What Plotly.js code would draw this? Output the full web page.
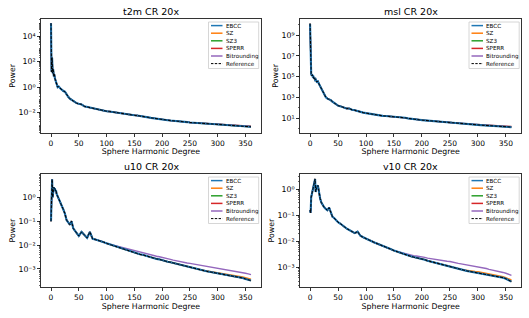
<!DOCTYPE html>
<html><head><meta charset="utf-8">
<script src="https://cdn.plot.ly/plotly-3.0.1.min.js"></script>
<style>html,body{margin:0;padding:0;background:#fff}#chart{width:529px;height:318px}</style>
</head><body><div id="chart"></div>
<script>
// ---------- data ----------
const degrees = [0,1,2,3,4,5,6,7,8,9,10,
  12,14,16,18,20,22,
  25,28,31,34,37,40,43,46,
  50,55,60,65,70,75,80,85,90,95,100,
  105,110,115,120,125,130,135,140,145,150,155,160,165,170,175,180,185,190,195,200,
  205,210,215,220,225,230,235,240,245,250,255,260,265,270,275,280,285,290,295,300,
  305,310,315,320,325,330,335,340,345,350,355,360];

const seriesNames  = ['EBCC','SZ','SZ3','SPERR','Bitrounding','Reference'];
const seriesColors = ['#1f77b4','#ff7f0e','#2ca02c','#d62728','#9467bd','#000000'];
const panelTitles  = ['t2m CR 20x','msl CR 20x','u10 CR 20x','v10 CR 20x'];
const xTitle = 'Sphere Harmonic Degree';
const yTitle = 'Power';
const xTickVals = [0,50,100,150,200,250,300,350];

// log10(power) values
const t2mLogPower = [5.0,1.2,2.3,1.1,1.4,0.85,1.0,0.7,0.55,0.45,0.15,
  0.0,0.05,-0.1,-0.15,-0.2,-0.3,
  -0.35,-0.6,-0.75,-0.9,-1.0,-1.05,-1.15,-1.25,
  -1.3,-1.35,-1.5,-1.55,-1.62,-1.66,-1.7,-1.74,-1.78,-1.85,-1.88,
  -1.9,-1.94,-1.96,-2.0,-2.02,-2.05,-2.09,-2.12,-2.16,-2.2,-2.22,-2.27,-2.3,-2.32,-2.36,-2.4,-2.42,-2.46,-2.5,-2.54,
  -2.55,-2.58,-2.61,-2.62,-2.65,-2.67,-2.68,-2.71,-2.73,-2.76,-2.77,-2.8,-2.81,-2.83,-2.85,-2.86,-2.87,-2.88,-2.9,-2.91,
  -2.93,-2.94,-2.96,-2.97,-2.99,-3.0,-3.02,-3.03,-3.05,-3.06,-3.08,-3.1];
const t2mSperrTail = [-2.81,-2.82,-2.83,-2.84,-2.85,-2.86,-2.88,-2.89,-2.91,-2.92,-2.94,-2.95,-2.97,-2.98,-3.0,-3.01,-3.03,-3.04,-3.06]; // degrees 270..360

const mslLogPower = [10.1,5.5,5.3,5.1,5.2,4.95,5.0,4.8,4.9,4.7,4.75,
  4.5,4.55,4.3,4.1,3.9,3.65,
  3.3,3.05,2.9,2.85,2.75,2.6,2.5,2.35,
  2.22,2.15,2.05,1.95,1.95,1.82,1.78,1.68,1.6,1.55,1.5,
  1.45,1.38,1.32,1.3,1.27,1.24,1.22,1.2,1.2,1.17,1.15,1.13,1.08,1.05,1.0,0.95,0.92,0.9,0.86,0.83,
  0.8,0.78,0.76,0.74,0.72,0.7,0.67,0.64,0.62,0.6,0.58,0.55,0.52,0.5,0.48,0.46,0.43,0.41,0.39,0.37,
  0.35,0.33,0.31,0.3,0.28,0.26,0.25,0.23,0.21,0.2,0.18,0.16];
const mslSperrTail = [0.52,0.5,0.48,0.46,0.44,0.42,0.4,0.39,0.37,0.35,0.34,0.32,0.31,0.29,0.28,0.26,0.25,0.23,0.21]; // degrees 270..360

const u10LogPower = [-1.0,-0.4,0.75,0.0,0.3,0.42,0.35,0.38,0.26,0.3,0.15,
  0.05,-0.05,-0.15,-0.28,-0.38,-0.5,
  -0.68,-0.95,-1.05,-1.15,-1.0,-1.3,-1.4,-1.5,
  -1.62,-1.45,-1.6,-1.7,-1.45,-1.74,-1.77,-1.8,-1.84,-1.88,-1.93,
  -1.97,-2.0,-2.05,-2.09,-2.12,-2.16,-2.21,-2.24,-2.29,-2.32,-2.35,-2.39,-2.41,-2.45,-2.47,-2.51,-2.54,-2.58,-2.6,-2.64,
  -2.66,-2.7,-2.72,-2.75,-2.78,-2.81,-2.85,-2.88,-2.92,-2.95,-2.97,-3.0,-3.03,-3.05,-3.08,-3.1,-3.12,-3.14,-3.16,-3.17,
  -3.2,-3.22,-3.24,-3.26,-3.28,-3.31,-3.33,-3.35,-3.38,-3.42,-3.45,-3.49];
const u10BitroundTail = [-1.96,-1.99,-2.03,-2.06,-2.09,-2.12,-2.16,-2.19,-2.22,-2.25,-2.28,-2.31,-2.33,-2.36,-2.39,-2.42,-2.45,-2.47,-2.49,-2.51,
  -2.54,-2.57,-2.6,-2.63,-2.66,-2.69,-2.71,-2.73,-2.75,-2.77,-2.79,-2.81,-2.83,-2.85,-2.87,-2.89,-2.91,-2.92,-2.94,-2.95,
  -2.98,-3.0,-3.02,-3.04,-3.06,-3.09,-3.11,-3.13,-3.15,-3.18,-3.21,-3.24]; // degrees 105..360
const u10SzTail = [-3.04,-3.06,-3.08,-3.1,-3.12,-3.13,-3.14,-3.17,-3.19,-3.21,-3.23,-3.25,-3.27,-3.29,-3.31,-3.34,-3.37,-3.4,-3.43]; // 270..360

const v10LogPower = [-0.8,-0.9,-0.3,-0.2,-0.1,0.0,0.1,0.2,0.3,0.4,-0.1,
  0.1,0.15,-0.2,-0.35,-0.5,-0.58,
  -0.68,-0.75,-0.8,-0.7,-0.85,-1.05,-1.1,-1.18,
  -1.26,-1.33,-1.42,-1.5,-1.56,-1.62,-1.68,-1.62,-1.78,-1.84,-1.9,
  -1.95,-1.99,-2.04,-2.08,-2.12,-2.16,-2.21,-2.25,-2.3,-2.35,-2.39,-2.44,-2.47,-2.51,-2.54,-2.57,-2.6,-2.62,-2.65,-2.67,
  -2.7,-2.74,-2.77,-2.8,-2.82,-2.85,-2.87,-2.9,-2.93,-2.97,-3.0,-3.03,-3.06,-3.08,-3.11,-3.13,-3.15,-3.17,-3.18,-3.19,
  -3.21,-3.23,-3.26,-3.28,-3.3,-3.32,-3.34,-3.36,-3.39,-3.43,-3.48,-3.54];
const v10BitroundTail = [-2.38,-2.42,-2.45,-2.48,-2.51,-2.53,-2.55,-2.56,-2.57,-2.58,
  -2.61,-2.64,-2.66,-2.68,-2.7,-2.72,-2.74,-2.75,-2.76,-2.77,
  -2.8,-2.82,-2.84,-2.86,-2.88,-2.9,-2.91,-2.93,-2.95,-2.96,
  -2.99,-3.01,-3.04,-3.07,-3.09,-3.12,-3.14,-3.16,-3.19,-3.22,-3.26,-3.3]; // degrees 155..360
const v10SzTail = [-3.07,-3.09,-3.11,-3.13,-3.14,-3.15,-3.16,-3.18,-3.2,-3.22,-3.24,-3.26,-3.28,-3.3,-3.32,-3.35,-3.39,-3.44,-3.48]; // 270..360

// y tick exponents per panel
const t2mTickExp = [-2,0,2,4];
const mslTickExp = [1,3,5,7,9];
const u10TickExp = [-3,-2,-1,0];
const v10TickExp = [-3,-2,-1,0];

// ---------- assemble series ----------
const withTail = (base, fromDeg, tail) => base.slice(0, degrees.indexOf(fromDeg)).concat(tail);
const panels = [
  {title: panelTitles[0], logs: [t2mLogPower, t2mLogPower, t2mLogPower, withTail(t2mLogPower,270,t2mSperrTail), t2mLogPower, t2mLogPower],
   yRange: [-3.56, 5.33], tickExp: t2mTickExp, minorD: 'D1'},
  {title: panelTitles[1], logs: [mslLogPower, mslLogPower, mslLogPower, withTail(mslLogPower,270,mslSperrTail), mslLogPower, mslLogPower],
   yRange: [-0.38, 10.55], tickExp: mslTickExp, minorD: 1},
  {title: panelTitles[2], logs: [u10LogPower, withTail(u10LogPower,270,u10SzTail), u10LogPower, u10LogPower, withTail(u10LogPower,105,u10BitroundTail), u10LogPower],
   yRange: [-3.77, 0.975], tickExp: u10TickExp, minorD: 'D1'},
  {title: panelTitles[3], logs: [v10LogPower, withTail(v10LogPower,270,v10SzTail), v10LogPower, v10LogPower, withTail(v10LogPower,155,v10BitroundTail), v10LogPower],
   yRange: [-3.76, 0.59], tickExp: v10TickExp, minorD: 'D1'}
];

const SUP = {'0':'\u2070','1':'\u00b9','2':'\u00b2','3':'\u00b3','4':'\u2074','5':'\u2075','6':'\u2076','7':'\u2077','8':'\u2078','9':'\u2079','-':'\u207b'};
const powLabel = e => '10' + String(e).split('').map(c => SUP[c]).join('');

// ---------- layout geometry (pixels) ----------
const W = 529, H = 318;
const boxes = [[41,261,19,132.7],[300,521.5,19,132.7],[41,261,174,287.3],[300,521.5,174,287.3]];
const FONT = 'DejaVu Sans, Liberation Sans, sans-serif';
const drawOrder = [1,2,3,4,0,5];
const lineWidths = [2.1,1.4,1.4,1.4,1.4,1.0];

const traces = [];
const layout = {
  width: W, height: H, margin: {l:0,r:0,t:0,b:0,pad:0},
  paper_bgcolor: '#fff', plot_bgcolor: '#fff', showlegend: false,
  font: {family: FONT, size: 7.5, color: '#000'},
  shapes: [], annotations: []
};

panels.forEach((p, k) => {
  const n = k === 0 ? '' : String(k + 1);
  const [x0, x1, y0, y1] = boxes[k];
  const bw = x1 - x0, bh = y1 - y0;
  drawOrder.forEach(s => {
    traces.push({
      type: 'scatter', mode: 'lines', name: seriesNames[s],
      x: degrees, y: p.logs[s].map(v => Math.pow(10, v)),
      xaxis: 'x' + n, yaxis: 'y' + n,
      line: {color: seriesColors[s], width: lineWidths[s], dash: s === 5 ? '3px,1.3px' : 'solid'},
      hoverinfo: 'skip'
    });
  });
  const common = {showline: true, mirror: true, linecolor: '#000', linewidth: 0.8,
    ticks: 'outside', ticklen: 3, tickwidth: 0.8, tickcolor: '#000',
    showgrid: false, zeroline: false, tickfont: {family: FONT, size: 7.5, color: '#000'}};
  layout['xaxis' + n] = Object.assign({}, common, {
    domain: [x0 / W, x1 / W], anchor: 'y' + n, range: [-18, 378],
    tickmode: 'array', tickvals: xTickVals, ticktext: xTickVals.map(String),
    title: {text: xTitle, font: {family: FONT, size: 7.8, color: '#000'}, standoff: 1}
  });
  layout['yaxis' + n] = Object.assign({}, common, {
    domain: [1 - y1 / H, 1 - y0 / H], anchor: 'x' + n, type: 'log', range: p.yRange,
    tickmode: 'array', tickvals: p.tickExp.map(e => Math.pow(10, e)),
    ticktext: p.tickExp.map(powLabel),
    tickfont: {family: FONT, size: 7.8, color: '#000'},
    minor: {ticks: 'outside', ticklen: 1.6, tickwidth: 0.6, tickcolor: '#000', dtick: p.minorD, tickmode: 'linear', showgrid: false},
    title: {text: yTitle, font: {family: FONT, size: 7.8, color: '#000'}, standoff: 1}
  });
  // subplot title
  layout.annotations.push({text: p.title, xref: 'x' + n + ' domain', yref: 'y' + n + ' domain',
    x: 0.5, y: 1, xanchor: 'center', yanchor: 'bottom', yshift: 0, showarrow: false,
    font: {family: FONT, size: 9.5, color: '#000'}});
  // legend (drawn with shapes/annotations, offsets in px from the axes' top-right corner)
  const fx = dx => 1 + dx / bw, fy = dy => 1 - dy / bh;
  const xr = 'x' + n + ' domain', yr = 'y' + n + ' domain';
  layout.shapes.push({type: 'rect', xref: xr, yref: yr, x0: fx(-52.5), x1: fx(-2.3), y0: fy(3), y1: fy(49.5),
    fillcolor: 'rgba(255,255,255,0.8)', line: {color: '#cccccc', width: 0.8}});
  seriesNames.forEach((name, i) => {
    const dy = 6.6 + 7.6 * i;
    layout.shapes.push({type: 'line', xref: xr, yref: yr, x0: fx(-50), x1: fx(-38.5), y0: fy(dy), y1: fy(dy),
      line: {color: seriesColors[i], width: i === 5 ? 1 : 1.5, dash: i === 5 ? '2.4px,1.4px' : 'solid'}});
    layout.annotations.push({text: name, xref: xr, yref: yr, x: fx(-36.5), y: fy(dy), xanchor: 'left', yanchor: 'middle',
      showarrow: false, borderpad: 0, font: {family: FONT, size: 5.6, color: '#000'}});
  });
});

Plotly.newPlot('chart', traces, layout, {staticPlot: true, displayModeBar: false});
</script></body></html>
